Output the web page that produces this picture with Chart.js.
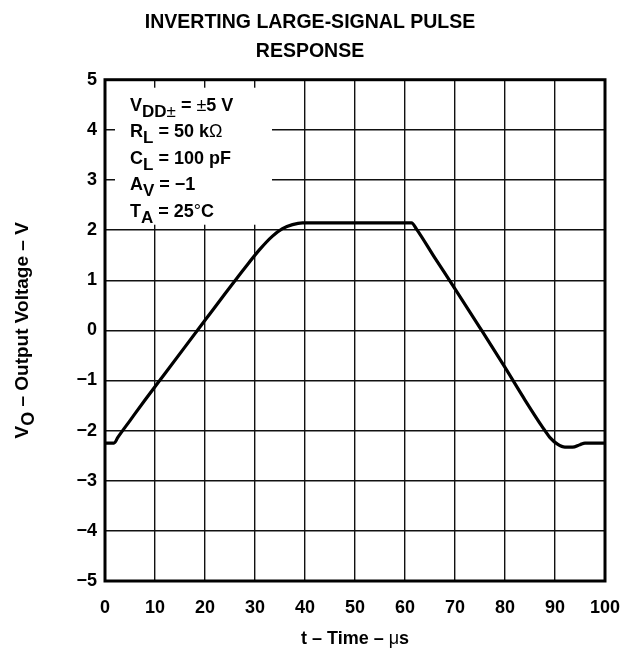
<!DOCTYPE html>
<html>
<head>
<meta charset="utf-8">
<script src="https://cdn.jsdelivr.net/npm/chart.js@4/dist/chart.umd.min.js"></script>
<style>
  html, body { margin: 0; padding: 0; background: #fff; }
  #wrap { width: 625px; height: 648px; }
</style>
</head>
<body>
<div id="wrap"><canvas id="c" width="625" height="648"></canvas></div>
<script>
// Output voltage of the amplifier over time (µs, V)
const timeUs  = [0, 1.8, 2.6, 5, 8, 12, 16, 20, 24, 28, 31, 33.5, 35.5, 37.5, 39.5,
                 61.3, 62.3, 66, 70, 75, 80, 84, 87.5, 89, 90.5, 92, 93.5, 95, 96, 100];
const outputV = [-2.25, -2.25, -2.13, -1.8, -1.39, -0.86, -0.33, 0.2, 0.73, 1.25, 1.62, 1.88, 2.03, 2.11, 2.145,
                 2.145, 2.02, 1.44, 0.83, 0.05, -0.74, -1.39, -1.93, -2.14, -2.27, -2.33, -2.33, -2.28, -2.25, -2.25];

const xTickValues = [0, 10, 20, 30, 40, 50, 60, 70, 80, 90, 100];
const yTickValues = [-5, -4, -3, -2, -1, 0, 1, 2, 3, 4, 5];

const titleLines = ['INVERTING LARGE-SIGNAL PULSE', 'RESPONSE'];

// Test conditions: [symbol, subscript, rest]
const conditionLines = [
  ['V', 'DD\u00B1', ' = \u00B15 V'],
  ['R', 'L', ' = 50 k\u03A9'],
  ['C', 'L', ' = 100 pF'],
  ['A', 'V', ' = \u22121'],
  ['T', 'A', ' = 25\u00B0C']
];

const FONT = '"Liberation Sans", Arial, Helvetica, sans-serif';
const INK = '#000';

function fmtMinus(v) { return v < 0 ? '\u2212' + Math.abs(v) : String(v); }

// draws a run of text pieces; each piece may be a subscript or regular weight
function drawRich(ctx, x, y, pieces, size) {
  let cx = x;
  for (const p of pieces) {
    const sz = p.sub ? size - 1 : size;
    const weight = p.light ? 'normal' : 'bold';
    ctx.font = weight + ' ' + sz + 'px ' + FONT;
    ctx.fillText(p.t, cx, y + (p.sub ? 6 : 0));
    cx += ctx.measureText(p.t).width;
  }
  return cx - x;
}

function measureRich(ctx, pieces, size) {
  let w = 0;
  for (const p of pieces) {
    const sz = p.sub ? size - 1 : size;
    ctx.font = (p.light ? 'normal' : 'bold') + ' ' + sz + 'px ' + FONT;
    w += ctx.measureText(p.t).width;
  }
  return w;
}

function splitSymbols(str) {
  // ±, Ω, ° and µ are set in the regular symbol face
  const out = [];
  let buf = '';
  for (const ch of str) {
    if ('\u00B1\u03A9\u00B0\u03BC\u00B5'.includes(ch)) {
      if (buf) out.push({ t: buf });
      out.push({ t: ch, light: true });
      buf = '';
    } else buf += ch;
  }
  if (buf) out.push({ t: buf });
  return out;
}

const framePlugin = {
  id: 'frame',
  beforeDatasetsDraw(chart) {
    const { ctx, chartArea: a } = chart;
    ctx.save();
    // white panel holding the test conditions
    ctx.fillStyle = '#fff';
    ctx.fillRect(a.left + 10, a.top + 8, 157, 137);
    // heavy outline of the plot area
    ctx.strokeStyle = INK;
    ctx.lineWidth = 3;
    ctx.strokeRect(a.left, a.top, a.right - a.left, a.bottom - a.top);

    ctx.fillStyle = INK;
    ctx.textAlign = 'left';
    ctx.textBaseline = 'alphabetic';
    conditionLines.forEach((ln, i) => {
      const pieces = [{ t: ln[0] }]
        .concat(splitSymbols(ln[1]).map(p => Object.assign(p, { sub: true })))
        .concat(splitSymbols(ln[2]));
      drawRich(ctx, a.left + 25, a.top + 31 + i * 26.5, pieces, 18);
    });
    ctx.restore();
  },
  afterDraw(chart) {
    const { ctx, chartArea: a } = chart;
    ctx.save();
    ctx.fillStyle = INK;
    ctx.textBaseline = 'alphabetic';
    // vertical axis title
    const yPieces = [{ t: 'V' }, { t: 'O', sub: true }, { t: ' \u2013 Output Voltage \u2013 V' }];
    const w = measureRich(ctx, yPieces, 19);
    ctx.translate(28, (a.top + a.bottom) / 2);
    ctx.rotate(-Math.PI / 2);
    drawRich(ctx, -w / 2, 0, yPieces, 19);
    ctx.restore();

    // horizontal axis title
    ctx.save();
    ctx.fillStyle = INK;
    const xPieces = splitSymbols('t \u2013 Time \u2013 \u03BCs');
    const xw = measureRich(ctx, xPieces, 18);
    drawRich(ctx, (a.left + a.right) / 2 - xw / 2, 644, xPieces, 18);
    ctx.restore();
  }
};

const points = timeUs.map((t, i) => ({ x: t, y: outputV[i] }));

new Chart(document.getElementById('c'), {
  type: 'line',
  data: {
    datasets: [{
      data: points,
      borderColor: INK,
      borderWidth: 3.2,
      pointRadius: 0,
      fill: false,
      cubicInterpolationMode: 'monotone'
    }]
  },
  options: {
    responsive: false,
    animation: false,
    devicePixelRatio: 1,
    layout: { padding: { top: 0, right: 20, left: 15, bottom: 0 } },
    plugins: {
      legend: { display: false },
      tooltip: { enabled: false },
      title: {
        display: true,
        text: titleLines,
        color: INK,
        font: { family: FONT, size: 19.5, weight: 'bold', lineHeight: 1.48 },
        padding: { top: 8, bottom: 14 }
      }
    },
    scales: {
      x: {
        type: 'linear',
        min: 0, max: 100,
        afterBuildTicks(s) { s.ticks = xTickValues.map(v => ({ value: v })); },
        afterFit(s) { s.height = 67; s.paddingLeft = 0; s.paddingRight = 0; },
        ticks: {
          color: INK,
          font: { family: FONT, size: 18, weight: 'bold' },
          padding: 16,
          maxRotation: 0,
          autoSkip: false
        },
        grid: { color: '#111', lineWidth: 1.4, drawTicks: false },
        border: { display: false }
      },
      y: {
        type: 'linear',
        min: -5, max: 5,
        afterBuildTicks(s) { s.ticks = yTickValues.map(v => ({ value: v })); },
        afterFit(s) { s.width = 90; s.paddingTop = 0; s.paddingBottom = 0; },
        ticks: {
          color: INK,
          font: { family: FONT, size: 18, weight: 'bold' },
          padding: 8,
          autoSkip: false,
          callback: v => fmtMinus(v)
        },
        grid: { color: '#111', lineWidth: 1.4, drawTicks: false },
        border: { display: false }
      }
    }
  },
  plugins: [framePlugin]
});
</script>
</body>
</html>
